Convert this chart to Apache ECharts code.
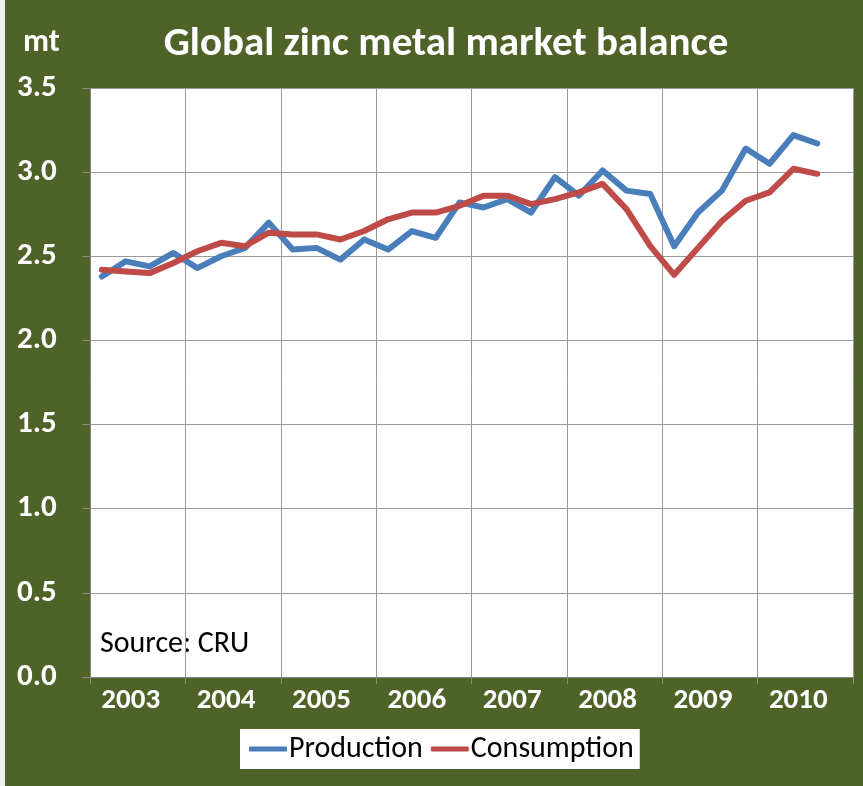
<!DOCTYPE html>
<html><head><meta charset="utf-8">
<script src="https://cdn.jsdelivr.net/npm/echarts@6/dist/echarts.min.js"></script>
<style>html,body{margin:0;padding:0;background:#4F6228;}#c{width:863px;height:786px;}</style>
</head><body><div id="c"></div>
<script>
const years = ['2003','2004','2005','2006','2007','2008','2009','2010'];
const quarters = ['2003Q1','2003Q2','2003Q3','2003Q4','2004Q1','2004Q2','2004Q3','2004Q4','2005Q1','2005Q2','2005Q3','2005Q4','2006Q1','2006Q2','2006Q3','2006Q4','2007Q1','2007Q2','2007Q3','2007Q4','2008Q1','2008Q2','2008Q3','2008Q4','2009Q1','2009Q2','2009Q3','2009Q4','2010Q1','2010Q2','2010Q3','2010Q4'];
const production = [2.38,2.47,2.44,2.52,2.43,2.50,2.55,2.70,2.54,2.55,2.48,2.60,2.54,2.65,2.61,2.82,2.79,2.84,2.76,2.97,2.86,3.01,2.89,2.87,2.56,2.76,2.89,3.14,3.05,3.22,3.17,null];
const consumption = [2.42,2.41,2.40,2.46,2.53,2.58,2.56,2.64,2.63,2.63,2.60,2.65,2.72,2.76,2.76,2.80,2.86,2.86,2.81,2.84,2.88,2.93,2.78,2.56,2.39,2.55,2.71,2.83,2.88,3.02,2.99,null];
const yMin = 0, yMax = 3.5, yStep = 0.5;

const font = "Carlito, 'Liberation Sans Narrow', 'Open Sans', sans-serif";
const chart = echarts.init(document.getElementById('c'));
chart.setOption({
  backgroundColor: '#4F6228',
  animation: false,
  title: {
    text: 'Global zinc metal market balance',
    left: 441, top: 19, textAlign: 'center',
    textStyle: {color: '#fff', fontSize: 41, fontWeight: 'bold', fontFamily: font}
  },
  graphic: [
    {type: 'rect', left: 0, top: 0, shape: {width: 5, height: 786}, style: {fill: '#eeeeee'}, silent: true},
    {type: 'text', left: 23, top: 27, style: {text: 'mt', fill: '#fff', font: "bold 32px " + font}},
    {type: 'text', left: 100, top: 629, style: {text: 'Source: CRU', fill: '#000', font: "30px " + font}}
  ],
  legend: {
    left: 240, top: 729,
    backgroundColor: '#fff', padding: [5, 6, 5, 9], itemGap: 8,
    itemWidth: 38, itemHeight: 5, icon: 'roundRect',
    textStyle: {color: '#000', fontSize: 30, fontFamily: font, padding: [0,0,0,-3]},
    data: ['Production', 'Consumption']
  },
  grid: {left: 90, top: 88, right: 10, bottom: 109, backgroundColor: '#fff', show: true, borderWidth: 0},
  xAxis: [
    {type: 'category', data: quarters, boundaryGap: true, show: false},
    {type: 'category', data: years, boundaryGap: true, position: 'bottom',
     axisLine: {show: true, lineStyle: {color: '#888', width: 1}},
     axisTick: {show: true, length: 7, lineStyle: {color: '#888'}},
     splitLine: {show: true, lineStyle: {color: '#999', width: 1}},
     axisLabel: {color: '#fff', fontSize: 29, fontWeight: 'bold', fontFamily: font, margin: 9, padding: [0, 14, 0, 0]}}
  ],
  yAxis: {
    type: 'value', min: yMin, max: yMax, interval: yStep,
    axisLine: {show: true, lineStyle: {color: '#888'}},
    axisTick: {show: true, length: 8, lineStyle: {color: '#888'}},
    splitLine: {show: true, lineStyle: {color: '#999', width: 1}},
    axisLabel: {color: '#fff', fontSize: 31, fontWeight: 'bold', fontFamily: font, margin: 73, align: 'left',
      formatter: v => v.toFixed(1)}
  },
  series: [
    {name: 'Production', type: 'line', xAxisIndex: 0, data: production, symbol: 'none',
     lineStyle: {color: '#4A7EBB', width: 6, join: 'round', cap: 'round'}, itemStyle: {color: '#4A7EBB'}},
    {name: 'Consumption', type: 'line', xAxisIndex: 0, data: consumption, symbol: 'none',
     lineStyle: {color: '#BE4B48', width: 6, join: 'round', cap: 'round'}, itemStyle: {color: '#BE4B48'}}
  ]
});
</script></body></html>
